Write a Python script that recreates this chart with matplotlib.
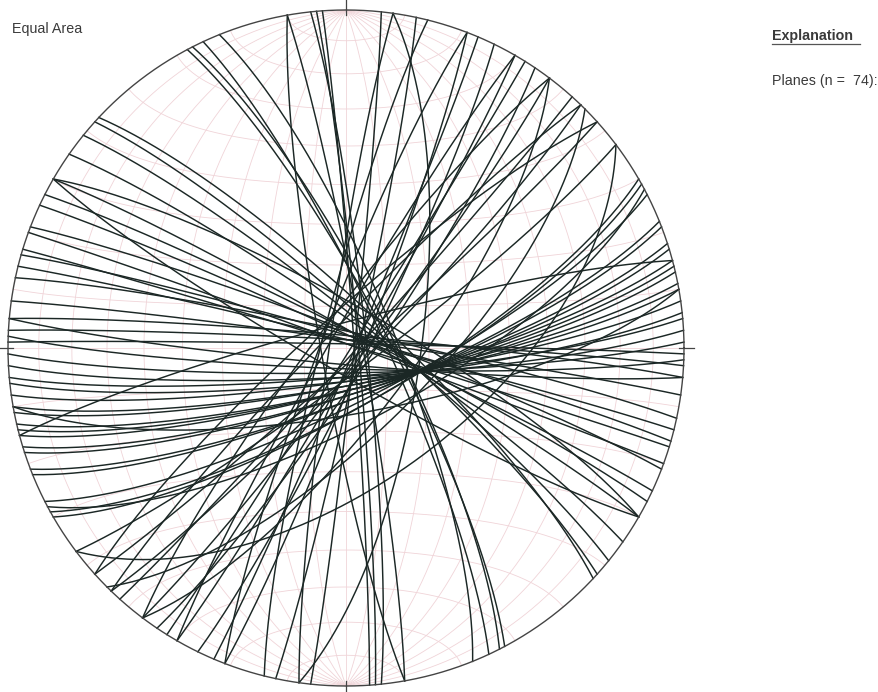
import numpy as np
import matplotlib
matplotlib.use("Agg")
import matplotlib.pyplot as plt

strikes = [60, 61, 63, 68, 69, 72, 73, 75, 76, 77, 79, 80, 82, 84, 85, 87, 89, 92, 95,
           284, 286, 287, 290, 291, 295, 297, 300, 305, 309, 312, 313, 278, 282, 273, 271, 275,
           332, 333, 335, 338, 350, 354, 355, 356, 8, 6,
           12, 21, 23, 26, 30, 32, 34, 37, 42, 44, 48, 53,
           201, 210, 217, 224, 188, 194,
           53, 45, 37, 62, 228, 300, 120, 170, 80, 255]
dips = [76, 76, 77, 78, 78, 79, 79, 80, 80, 80, 81, 81, 82, 82, 83, 83, 84, 85, 86,
        88, 87, 89, 89, 86, 87, 86, 86, 84, 83, 82, 80, 88, 86, 88, 89, 87,
        80, 79, 81, 78, 86, 85, 87, 88, 72, 88,
        87, 86, 88, 85, 87, 89, 84, 86, 88, 85, 87, 84,
        84, 86, 83, 85, 86, 84,
        58, 70, 74, 72, 82, 80, 84, 84, 74, 84]

title_text = "Equal Area"
legend_title = "Explanation"
legend_text = "Planes (n =  %d):" % len(strikes)


def project(e, n, d):
    # lower hemisphere equal-area (Schmidt), unit primitive
    d = np.clip(d, 0, 1)
    plunge = np.arcsin(d)
    trend = np.arctan2(e, n)
    r = np.sqrt(2) * np.sin((np.pi / 2 - plunge) / 2)
    return r * np.sin(trend), r * np.cos(trend)


def great_circle(strike, dip):
    s = np.radians(strike)
    dp = np.radians(dip)
    rake = np.linspace(0, np.pi, 361)
    sv = np.array([np.sin(s), np.cos(s), 0.0])
    dv = np.array([np.cos(dp) * np.sin(s + np.pi / 2),
                   np.cos(dp) * np.cos(s + np.pi / 2), np.sin(dp)])
    pts = np.outer(np.cos(rake), sv) + np.outer(np.sin(rake), dv)
    return project(pts[:, 0], pts[:, 1], pts[:, 2])


def small_circle(angle):
    a = np.radians(angle)
    phi = np.linspace(0, np.pi, 181)
    e = np.sin(a) * np.cos(phi)
    n = np.full_like(phi, np.cos(a))
    d = np.sin(a) * np.sin(phi)
    return project(e, n, d)


W, H = 879, 692
cx, cy, R = 346, 348, 338
pad = 1.06

fig = plt.figure(figsize=(W / 100, H / 100), dpi=100)
ax = fig.add_axes([(cx - R * pad) / W, 1 - (cy + R * pad) / H,
                   2 * R * pad / W, 2 * R * pad / H])
ax.set_xlim(-pad, pad)
ax.set_ylim(-pad, pad)
ax.set_aspect("equal")
ax.axis("off")

# faint Schmidt net
grid_col = "#f0d4d8"
for dg in range(10, 90, 10):
    for st in (0, 180):
        x, y = great_circle(st, dg)
        ax.plot(x, y, color=grid_col, lw=0.6, zorder=1)
for ang in range(10, 180, 10):
    if ang == 90:
        continue
    x, y = small_circle(ang)
    ax.plot(x, y, color=grid_col, lw=0.6, zorder=1)
ax.plot([0, 0], [-1, 1], color=grid_col, lw=0.6, zorder=1)
ax.plot([-1, 1], [0, 0], color=grid_col, lw=0.6, zorder=1)

# planes
for st, dp in zip(strikes, dips):
    x, y = great_circle(st, dp)
    ax.plot(x, y, color="#1b2725", lw=1.05, zorder=3)

# primitive circle and ticks
t = np.linspace(0, 2 * np.pi, 721)
ax.plot(np.cos(t), np.sin(t), color="#444444", lw=1.0, zorder=4)
for a in (0, 90, 180, 270):
    ar = np.radians(a)
    ax.plot([0.985 * np.sin(ar), 1.03 * np.sin(ar)],
            [0.985 * np.cos(ar), 1.03 * np.cos(ar)], color="#444444", lw=0.9, zorder=4)

fs = 10.3
fig.text(12 / W, 1 - 29 / H, title_text, fontsize=fs, family="Liberation Sans",
         color="#3a3a3a", va="center", ha="left")
fig.text(772 / W, 1 - 36 / H, legend_title, fontsize=fs, family="Liberation Sans",
         fontweight="bold", color="#3a3a3a", va="center", ha="left")
fig.lines.append(plt.Line2D([772 / W, 860 / W], [1 - 44 / H, 1 - 44 / H],
                            transform=fig.transFigure, color="#555555", lw=0.9))
fig.text(772 / W, 1 - 81 / H, legend_text, fontsize=fs, family="Liberation Sans",
         color="#3a3a3a", va="center", ha="left")

fig.savefig("out.png", dpi=100)
